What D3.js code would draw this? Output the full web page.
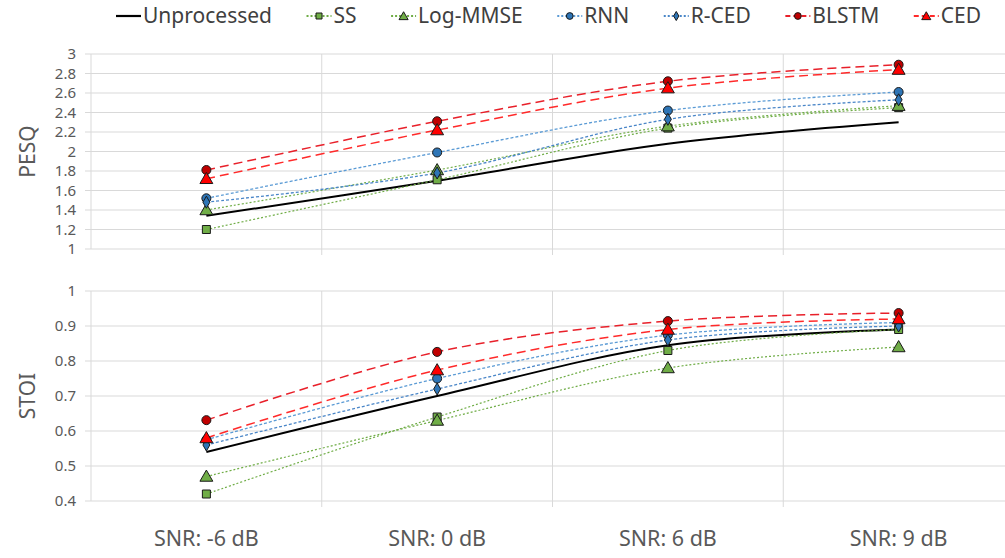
<!DOCTYPE html>
<html>
<head>
<meta charset="utf-8">
<script src="https://cdn.jsdelivr.net/npm/d3@7"></script>
<style>
  body { margin: 0; background: #fff; }
  svg { display: block; font-family: "Liberation Sans Narrow", "Noto Sans", sans-serif; }
  .grid line { stroke: #d9d9d9; stroke-width: 1px; }
  .tick-label { fill: #595959; font-size: 15px; }
  .axis-title { fill: #595959; font-size: 21px; }
  .legend text { fill: #404040; font-size: 21px; }
</style>
</head>
<body>
<svg id="chart" width="1005" height="558"></svg>
<script>
  // categories along x
  const snrLabels = ['SNR: -6 dB', 'SNR: 0 dB', 'SNR: 6 dB', 'SNR: 9 dB'];

  // PESQ values per method
  const pesqUnprocessed = [1.34, 1.70, 2.08, 2.30];
  const pesqSS          = [1.20, 1.71, 2.24, 2.45];
  const pesqLogMMSE     = [1.40, 1.81, 2.26, 2.47];
  const pesqRNN         = [1.52, 1.99, 2.42, 2.61];
  const pesqRCED        = [1.48, 1.78, 2.33, 2.53];
  const pesqBLSTM       = [1.81, 2.31, 2.72, 2.89];
  const pesqCED         = [1.72, 2.22, 2.65, 2.84];

  // STOI values per method
  const stoiUnprocessed = [0.54, 0.70, 0.845, 0.89];
  const stoiSS          = [0.42, 0.64, 0.83, 0.89];
  const stoiLogMMSE     = [0.47, 0.63, 0.78, 0.84];
  const stoiRNN         = [0.575, 0.75, 0.874, 0.91];
  const stoiRCED        = [0.56, 0.72, 0.86, 0.90];
  const stoiBLSTM       = [0.631, 0.826, 0.914, 0.937];
  const stoiCED         = [0.58, 0.774, 0.89, 0.92];

  const pesqTicks = [1, 1.2, 1.4, 1.6, 1.8, 2, 2.2, 2.4, 2.6, 2.8, 3];
  const stoiTicks = [0.4, 0.5, 0.6, 0.7, 0.8, 0.9, 1];

  const methods = [
    {name: 'Unprocessed', pesq: pesqUnprocessed, stoi: stoiUnprocessed, line: '#000000', dash: null, width: 2, marker: null},
    {name: 'SS', pesq: pesqSS, stoi: stoiSS, line: '#70ad47', dash: '2,2', width: 1.2, marker: 'square', fill: '#70ad47'},
    {name: 'Log-MMSE', pesq: pesqLogMMSE, stoi: stoiLogMMSE, line: '#70ad47', dash: '2,2', width: 1.2, marker: 'triangle', fill: '#70ad47'},
    {name: 'RNN', pesq: pesqRNN, stoi: stoiRNN, line: '#5b9bd5', dash: '3,2', width: 1.3, marker: 'circle', fill: '#2e75b6'},
    {name: 'R-CED', pesq: pesqRCED, stoi: stoiRCED, line: '#4a86c8', dash: '3,2', width: 1.3, marker: 'diamond', fill: '#2e75b6'},
    {name: 'BLSTM', pesq: pesqBLSTM, stoi: stoiBLSTM, line: '#e8202a', dash: '9,5', width: 1.5, marker: 'circle', fill: '#c00000'},
    {name: 'CED', pesq: pesqCED, stoi: stoiCED, line: '#ff2a2a', dash: '9,5', width: 1.5, marker: 'triangle', fill: '#ff0000'}
  ];

  const svg = d3.select('#chart');
  const left = 91, right = 1014;

  const x = d3.scaleBand().domain(snrLabels).range([left, right]).padding(0);
  const cx = d => x(d) + x.bandwidth() / 2;

  const panels = [
    {key: 'pesq', title: 'PESQ', domain: [1, 3], range: [249, 54], ticks: pesqTicks, fmt: d3.format('')},
    {key: 'stoi', title: 'STOI', domain: [0.4, 1], range: [501, 291], ticks: stoiTicks, fmt: d3.format('')}
  ];

  const symbolFor = {
    square: d3.symbol().type(d3.symbolSquare).size(64),
    triangle: d3.symbol().type(d3.symbolTriangle).size(72),
    circle: d3.symbol().type(d3.symbolCircle).size(64),
    diamond: d3.symbol().type(d3.symbolDiamond).size(42)
  };

  panels.forEach(p => {
    const y = d3.scaleLinear().domain(p.domain).range(p.range);
    const g = svg.append('g');

    const grid = g.append('g').attr('class', 'grid');
    grid.selectAll('.h').data(p.ticks).join('line')
      .attr('x1', left - 6).attr('x2', right)
      .attr('y1', d => y(d)).attr('y2', d => y(d));
    grid.selectAll('.v').data(snrLabels.slice(1)).join('line')
      .attr('x1', d => x(d)).attr('x2', d => x(d))
      .attr('y1', p.range[1]).attr('y2', p.range[0] + 6);
    grid.append('line')
      .attr('x1', left).attr('x2', left)
      .attr('y1', p.range[1]).attr('y2', p.range[0]);

    g.selectAll('.tick-label').data(p.ticks).join('text')
      .attr('class', 'tick-label')
      .attr('x', 76).attr('y', d => y(d))
      .attr('dy', '0.35em').attr('text-anchor', 'end')
      .text(p.fmt);

    g.append('text').attr('class', 'axis-title')
      .attr('transform', `translate(28,${(p.range[0] + p.range[1]) / 2}) rotate(-90)`)
      .attr('text-anchor', 'middle').attr('dy', '0.35em')
      .text(p.title);

    const line = d3.line()
      .x((d, i) => cx(snrLabels[i]))
      .y(d => y(d))
      .curve(d3.curveCatmullRom.alpha(0));

    methods.forEach(m => {
      g.append('path').datum(m[p.key])
        .attr('fill', 'none')
        .attr('stroke', m.line)
        .attr('stroke-width', m.width)
        .attr('stroke-dasharray', m.dash)
        .attr('d', line);
    });

    methods.filter(m => m.marker).forEach(m => {
      g.selectAll(null).data(m[p.key]).join('path')
        .attr('transform', (d, i) => `translate(${cx(snrLabels[i])},${y(d) + (m.marker === 'triangle' ? 1 : 0)})`)
        .attr('d', symbolFor[m.marker]())
        .attr('fill', m.fill)
        .attr('stroke', '#1a1a1a')
        .attr('stroke-width', 1);
    });
  });

  // x labels
  svg.selectAll('.xlabel').data(snrLabels).join('text')
    .attr('class', 'axis-title')
    .attr('x', d => cx(d)).attr('y', 546)
    .attr('text-anchor', 'middle')
    .style('font-size', '21.5px')
    .text(d => d);

  // legend
  const legend = svg.append('g').attr('class', 'legend');
  let lx = 116;
  methods.forEach(m => {
    const item = legend.append('g').attr('transform', `translate(${lx},16)`);
    item.append('line')
      .attr('x1', 0).attr('x2', 25)
      .attr('stroke', m.line).attr('stroke-width', m.marker ? 2 : 2.2)
      .attr('stroke-dasharray', m.marker ? (m.dash === '9,5' ? '5,3' : '2,2') : null);
    if (m.marker) {
      item.append('path')
        .attr('transform', 'translate(12.5,' + (m.marker === 'triangle' ? 1 : 0) + ')')
        .attr('d', d3.symbol().type({square: d3.symbolSquare, triangle: d3.symbolTriangle, circle: d3.symbolCircle, diamond: d3.symbolDiamond}[m.marker]).size(m.marker === 'diamond' ? 24 : 36)())
        .attr('fill', m.fill).attr('stroke', '#1a1a1a').attr('stroke-width', 1);
    }
    const t = item.append('text').attr('x', 27).attr('dy', '0.35em').text(m.name);
    lx += 27 + t.node().getComputedTextLength() + 34.5;
  });
</script>
</body>
</html>
